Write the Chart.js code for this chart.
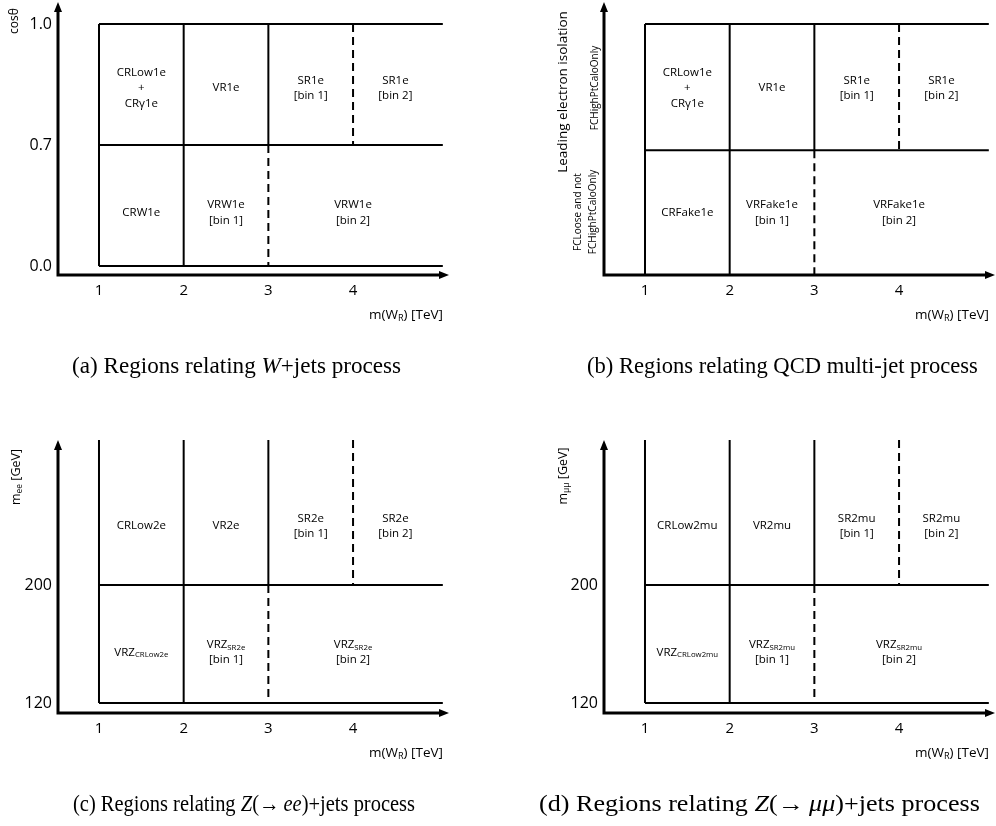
<!DOCTYPE html>
<html><head><meta charset="utf-8">
<script src="https://cdn.jsdelivr.net/npm/chart.js@4.4.0/dist/chart.umd.min.js"></script>
<style>
body{margin:0;background:#fff;width:996px;height:826px;position:relative;overflow:hidden}
.pane{position:absolute;width:498px;height:388px}
.cap{position:absolute;font-family:"Liberation Serif","Times New Roman",serif;font-size:22.5px;white-space:nowrap;color:#000;line-height:23px;transform-origin:0 50%}
</style></head><body>
<div class="pane" style="left:0;top:0"><canvas id="ca" width="498" height="388"></canvas></div>
<div class="pane" style="left:498px;top:0"><canvas id="cb" width="498" height="388"></canvas></div>
<div class="pane" style="left:0;top:438px"><canvas id="cc" width="498" height="388"></canvas></div>
<div class="pane" style="left:498px;top:438px"><canvas id="cd" width="498" height="388"></canvas></div>
<div class="cap" id="capa" style="left:72px;top:354px">(a) Regions relating <i>W</i>+jets process</div>
<div class="cap" id="capb" style="left:587px;top:354px">(b) Regions relating QCD multi-jet process</div>
<div class="cap" id="capc" style="left:73px;top:792px">(c) Regions relating <i>Z</i>(→&#8201;<i>ee</i>)+jets process</div>
<div class="cap" id="capd" style="left:539px;top:792px">(d) Regions relating <i>Z</i>(→&#8201;<i>μμ</i>)+jets process</div>
<script>
// ---------- data ----------
const xTickValues = [1, 2, 3, 4];
const xTitle = 'm(W_{R}) [TeV]';
const X_MIN = 0.516, X_MAX = 5.133;
const LINE_X0 = 1, LINE_X1 = 5.06;

// (a) W+jets
const aYRange = [-0.074, 2.182];
const aYLevels = [0, 1, 2];
const aYTickLabels = ['0.0', '0.7', '1.0'];
const aHLines = [0, 1, 2];
const aVSolid = [[1, 0, 2], [2, 0, 2], [3, 1, 2]];
const aVDashed = [[4, 2, 1], [3, 1, 0]];
const aCells = [
  [1.5, 1.47, ['CRLow1e', '+', 'CRγ1e']],
  [2.5, 1.47, ['VR1e']],
  [3.5, 1.47, ['SR1e', '[bin 1]']],
  [4.5, 1.47, ['SR1e', '[bin 2]']],
  [1.5, 0.44, ['CRW1e']],
  [2.5, 0.44, ['VRW1e', '[bin 1]']],
  [4.0, 0.44, ['VRW1e', '[bin 2]']]
];

// (b) QCD multi-jet
const bYRange = [-0.074, 2.182];
const bYLevels = [];
const bYTickLabels = [];
const bHLines = [2, 0.956];
const bVSolid = [[1, -0.074, 2], [2, -0.074, 2], [3, 0.956, 2]];
const bVDashed = [[4, 2, 0.956], [3, 0.956, -0.074]];
const bCells = [
  [1.5, 1.47, ['CRLow1e', '+', 'CRγ1e']],
  [2.5, 1.47, ['VR1e']],
  [3.5, 1.47, ['SR1e', '[bin 1]']],
  [4.5, 1.47, ['SR1e', '[bin 2]']],
  [1.5, 0.44, ['CRFake1e']],
  [2.5, 0.44, ['VRFake1e', '[bin 1]']],
  [4.0, 0.44, ['VRFake1e', '[bin 2]']]
];

// (c) Z(->ee)+jets
const cYRange = [-0.085, 2.229];
const cYLevels = [0, 1];
const cYTickLabels = ['120', '200'];
const cHLines = [0, 1];
const cVSolid = [[1, 0, 2.229], [2, 0, 2.229], [3, 1, 2.229]];
const cVDashed = [[4, 2.229, 1], [3, 1, 0]];
const cCells = [
  [1.5, 1.50, ['CRLow2e']],
  [2.5, 1.50, ['VR2e']],
  [3.5, 1.50, ['SR2e', '[bin 1]']],
  [4.5, 1.50, ['SR2e', '[bin 2]']],
  [1.5, 0.43, ['VRZ_{CRLow2e}']],
  [2.5, 0.43, ['VRZ_{SR2e}', '[bin 1]']],
  [4.0, 0.43, ['VRZ_{SR2e}', '[bin 2]']]
];

// (d) Z(->mumu)+jets
const dYRange = [-0.085, 2.229];
const dYLevels = [0, 1];
const dYTickLabels = ['120', '200'];
const dHLines = [0, 1];
const dVSolid = [[1, 0, 2.229], [2, 0, 2.229], [3, 1, 2.229]];
const dVDashed = [[4, 2.229, 1], [3, 1, 0]];
const dCells = [
  [1.5, 1.50, ['CRLow2mu']],
  [2.5, 1.50, ['VR2mu']],
  [3.5, 1.50, ['SR2mu', '[bin 1]']],
  [4.5, 1.50, ['SR2mu', '[bin 2]']],
  [1.5, 0.43, ['VRZ_{CRLow2mu}']],
  [2.5, 0.43, ['VRZ_{SR2mu}', '[bin 1]']],
  [4.0, 0.43, ['VRZ_{SR2mu}', '[bin 2]']]
];

// ---------- drawing ----------
const FONT = '"Open Sans", "DejaVu Sans", sans-serif';

function parseRich(s) {
  const out = [];
  const re = /_\{([^}]*)\}/g;
  let last = 0, m;
  while ((m = re.exec(s))) {
    if (m.index > last) out.push({ t: s.slice(last, m.index), sub: false });
    out.push({ t: m[1], sub: true });
    last = re.lastIndex;
  }
  if (last < s.length) out.push({ t: s.slice(last), sub: false });
  return out;
}
function drawRich(ctx, s, x, y, size, align) {
  const segs = parseRich(s);
  const subSize = size * 0.68;
  let w = 0;
  segs.forEach(g => { ctx.font = (g.sub ? subSize : size) + 'px ' + FONT; g.w = ctx.measureText(g.t).width; w += g.w; });
  let cx = align === 'right' ? x - w : x - w / 2;
  ctx.textAlign = 'left';
  ctx.textBaseline = 'middle';
  segs.forEach(g => {
    ctx.font = (g.sub ? subSize : size) + 'px ' + FONT;
    ctx.fillText(g.t, cx, g.sub ? y + size * 0.25 : y);
    cx += g.w;
  });
}

const diagramPlugin = {
  id: 'diagram',
  afterDatasetsDraw(chart, args, opts) {
    const ctx = chart.ctx;
    const ca = chart.chartArea;
    const xs = chart.scales.x, ys = chart.scales.y;
    ctx.save();
    ctx.fillStyle = '#000';
    ctx.strokeStyle = '#000';
    // axes with arrows
    ctx.lineWidth = 3;
    ctx.setLineDash([]);
    ctx.beginPath();
    ctx.moveTo(ca.left, ca.bottom + 1.5);
    ctx.lineTo(ca.left, ca.top + 8);
    ctx.moveTo(ca.left - 1.5, ca.bottom);
    ctx.lineTo(ca.right - 8, ca.bottom);
    ctx.stroke();
    ctx.beginPath();
    ctx.moveTo(ca.left, ca.top);
    ctx.lineTo(ca.left - 4, ca.top + 10);
    ctx.lineTo(ca.left + 4, ca.top + 10);
    ctx.closePath();
    ctx.fill();
    ctx.beginPath();
    ctx.moveTo(ca.right, ca.bottom);
    ctx.lineTo(ca.right - 10, ca.bottom - 4);
    ctx.lineTo(ca.right - 10, ca.bottom + 4);
    ctx.closePath();
    ctx.fill();
    // cell labels
    opts.cells.forEach(([cx, cy, lines]) => {
      const px = xs.getPixelForValue(cx), py = ys.getPixelForValue(cy);
      const lh = 15.5;
      const y0 = py - (lines.length - 1) * lh / 2;
      lines.forEach((l, i) => drawRich(ctx, l, px, y0 + i * lh, 11.5));
    });
    // x title
    drawRich(ctx, xTitle, ca.right - 6, ca.bottom + 40, 13.5, 'right');
    // y titles (rotated)
    opts.yTitles.forEach(([dx, dy, text, size]) => {
      ctx.save();
      ctx.translate(ca.left + dx, ca.top + dy);
      ctx.rotate(-Math.PI / 2);
      drawRich(ctx, text, 0, 0, size);
      ctx.restore();
    });
    ctx.restore();
  }
};

function seg(x0, y0, x1, y1, dashed) {
  return {
    data: [{ x: x0, y: y0 }, { x: x1, y: y1 }],
    borderColor: '#000', borderWidth: 2, borderDash: dashed ? [8, 5] : [],
    pointRadius: 0, fill: false, tension: 0, clip: false, borderCapStyle: 'butt'
  };
}

function makeChart(id, p) {
  const ds = [];
  p.hLines.forEach(y => ds.push(seg(LINE_X0, y, LINE_X1, y, false)));
  p.vSolid.forEach(([x, y0, y1]) => ds.push(seg(x, y0, x, y1, false)));
  p.vDashed.forEach(([x, y0, y1]) => ds.push(seg(x, y0, x, y1, true)));
  return new Chart(document.getElementById(id), {
    type: 'line',
    data: { datasets: ds },
    plugins: [diagramPlugin],
    options: {
      responsive: false, animation: false, events: [],
      layout: { padding: { top: 2, right: p.padRight, left: 0, bottom: 0 } },
      plugins: {
        legend: { display: false }, tooltip: { enabled: false },
        diagram: { cells: p.cells, yTitles: p.yTitles }
      },
      scales: {
        x: {
          type: 'linear', min: X_MIN, max: X_MAX,
          grid: { display: false, drawTicks: false }, border: { display: false },
          afterBuildTicks: s => { s.ticks = xTickValues.map(v => ({ value: v })); },
          afterFit: s => { s.height = 113; s.paddingLeft = 0; s.paddingRight = 0; },
          ticks: { color: '#000', font: { family: FONT, size: 15 }, padding: 7, maxRotation: 0, autoSkip: false, callback: v => String(v) }
        },
        y: {
          type: 'linear', min: p.yRange[0], max: p.yRange[1],
          grid: { display: false, drawTicks: false }, border: { display: false },
          afterBuildTicks: s => { s.ticks = p.yLevels.map(v => ({ value: v })); },
          afterFit: s => { s.width = p.axisLeft; s.paddingTop = 0; s.paddingBottom = 0; },
          ticks: { color: '#000', font: { family: FONT, size: 16 }, padding: 6, autoSkip: false,
            callback: v => { const i = p.yLevels.indexOf(v); return i >= 0 ? p.yTickLabels[i] : ''; } }
        }
      }
    }
  });
}

makeChart('ca', { hLines: aHLines, vSolid: aVSolid, vDashed: aVDashed, cells: aCells, yRange: aYRange,
  yLevels: aYLevels, yTickLabels: aYTickLabels, axisLeft: 58, padRight: 49,
  yTitles: [[-43, 19, 'cosθ', 12]] });
makeChart('cb', { hLines: bHLines, vSolid: bVSolid, vDashed: bVDashed, cells: bCells, yRange: bYRange,
  yLevels: bYLevels, yTickLabels: bYTickLabels, axisLeft: 106, padRight: 1,
  yTitles: [[-41, 90, 'Leading electron isolation', 13.5], [-9, 86, 'FCHighPtCaloOnly', 10],
            [-26, 210, 'FCLoose and not', 10], [-11, 210, 'FCHighPtCaloOnly', 10]] });
makeChart('cc', { hLines: cHLines, vSolid: cVSolid, vDashed: cVDashed, cells: cCells, yRange: cYRange,
  yLevels: cYLevels, yTickLabels: cYTickLabels, axisLeft: 58, padRight: 49,
  yTitles: [[-42, 37, 'm_{ee} [GeV]', 12.5]] });
makeChart('cd', { hLines: dHLines, vSolid: dVSolid, vDashed: dVDashed, cells: dCells, yRange: dYRange,
  yLevels: dYLevels, yTickLabels: dYTickLabels, axisLeft: 106, padRight: 1,
  yTitles: [[-41, 36, 'm_{μμ} [GeV]', 12.5]] });

// fit caption widths to the reference extents
const capWidths = { capa: 329, capb: 391, capc: 342, capd: 441 };
Object.keys(capWidths).forEach(id => {
  const el = document.getElementById(id);
  const w = el.getBoundingClientRect().width;
  if (w > 0) el.style.transform = 'scaleX(' + (capWidths[id] / w).toFixed(3) + ')';
});
</script>
</body></html>
